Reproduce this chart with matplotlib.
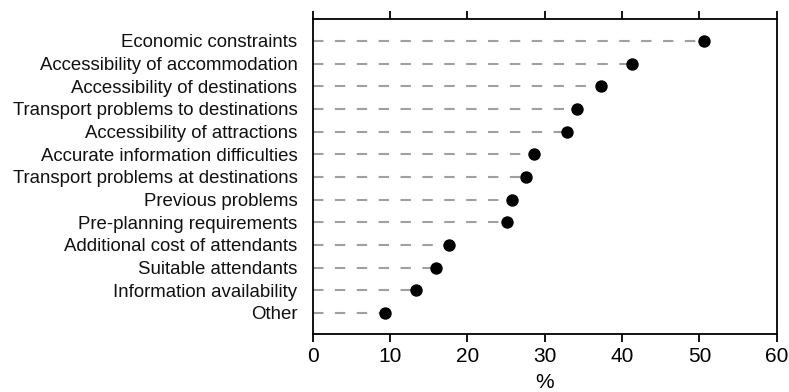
import matplotlib
matplotlib.use("Agg")
import matplotlib.pyplot as plt

# Reasons reported as barriers to travel (%)
categories = [
    "Economic constraints",
    "Accessibility of accommodation",
    "Accessibility of destinations",
    "Transport problems to destinations",
    "Accessibility of attractions",
    "Accurate information difficulties",
    "Transport problems at destinations",
    "Previous problems",
    "Pre-planning requirements",
    "Additional cost of attendants",
    "Suitable attendants",
    "Information availability",
    "Other",
]
values = [50.6, 41.3, 37.3, 34.2, 32.9, 28.6, 27.6, 25.8, 25.1, 17.6, 16.0, 13.4, 9.3]
x_ticks = [0, 10, 20, 30, 40, 50, 60]
x_label = "%"

plt.rcParams["font.family"] = ["Liberation Sans", "DejaVu Sans"]

fig = plt.figure(figsize=(7.89, 3.92), dpi=100)
ax = fig.add_axes([0.3963, 0.1472, 0.9844 - 0.3963, 0.9528 - 0.1472])

n = len(categories)
ypos = [n - 1 - i for i in range(n)]

for y, v in zip(ypos, values):
    ax.plot([0, v], [y, y], color="#a0a0a0", lw=1.5,
            dashes=(5, 5.5), zorder=1, solid_capstyle="butt")
ax.scatter(values, ypos, s=80, color="black", zorder=3, linewidths=0)

ax.set_xlim(0, 60)
ax.set_ylim(-0.94, n - 1 + 0.99)
ax.set_xticks(x_ticks)
ax.set_xticklabels([str(t) for t in x_ticks], fontsize=15)
ax.set_yticks(ypos)
ax.set_yticklabels(categories, fontsize=13.4, color="#111111")
ax.tick_params(axis="y", length=0, pad=11)
ax.tick_params(axis="x", which="both", direction="out", length=6, width=1.3,
               top=True, labeltop=False, pad=3)
ax.set_xlabel(x_label, fontsize=15, labelpad=5)

for s in ax.spines.values():
    s.set_linewidth(1.3)
    s.set_color("black")

fig.savefig("out.png", dpi=100)
